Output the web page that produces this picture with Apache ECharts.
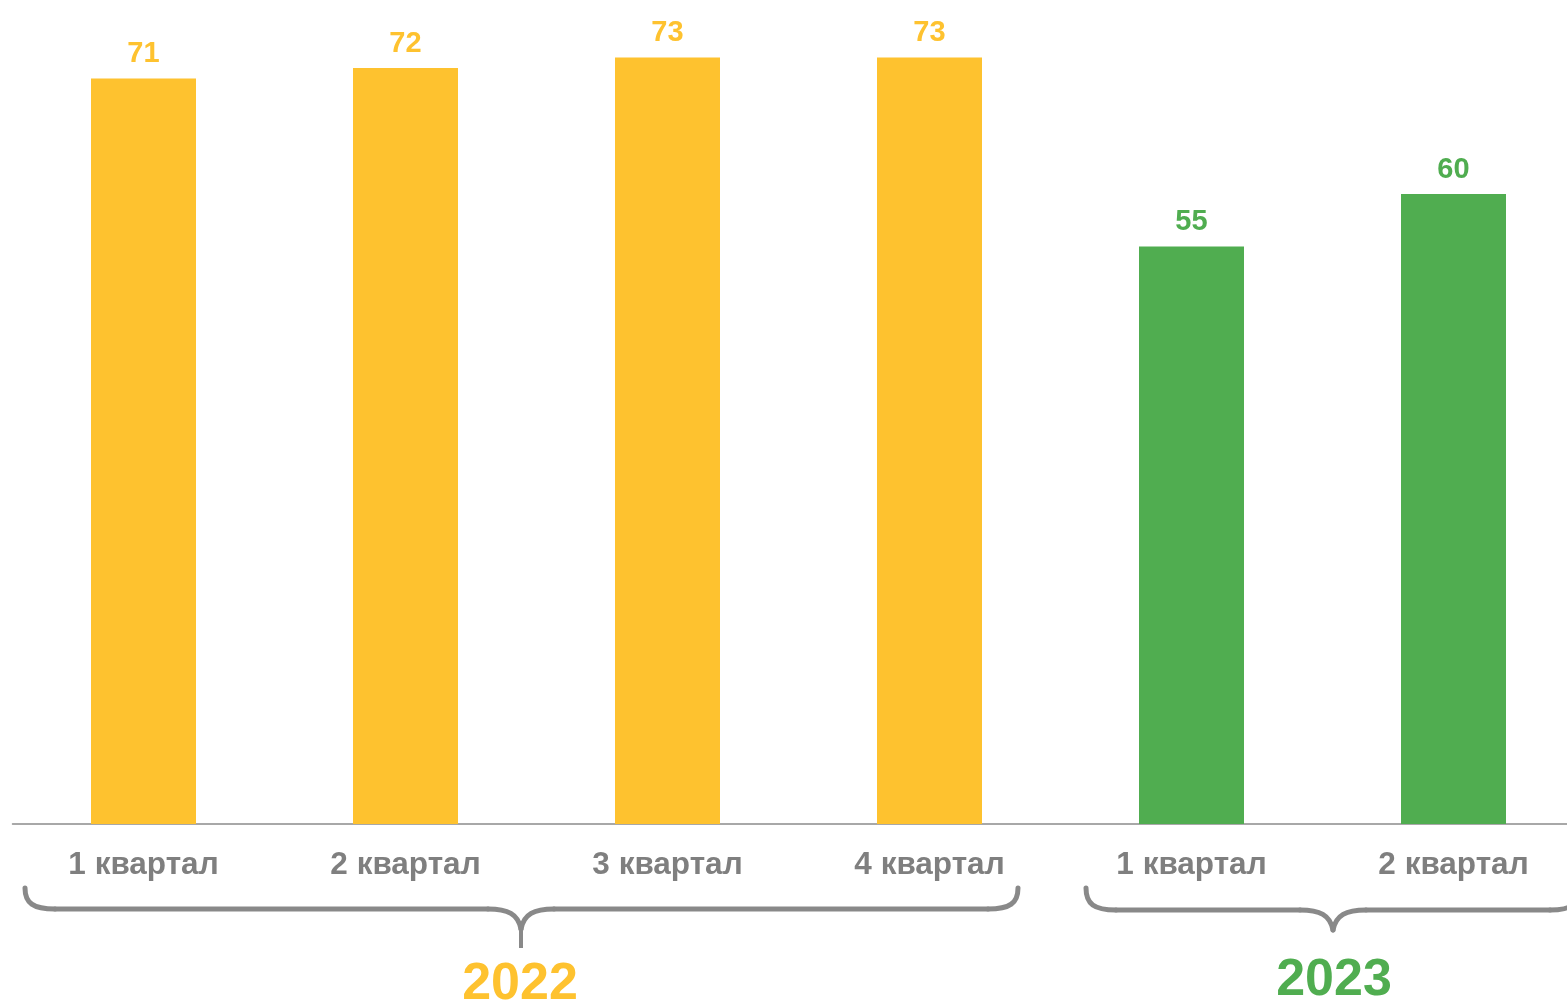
<!DOCTYPE html>
<html>
<head>
<meta charset="utf-8">
<script src="https://cdn.jsdelivr.net/npm/echarts@6/dist/echarts.min.js"></script>
<style>
html,body{margin:0;padding:0;background:#fff;overflow:hidden;width:1567px;height:1004px;}
#chart{width:1590px;height:1004px;}
</style>
</head>
<body>
<div id="chart"></div>
<script>
var categories = ['1 квартал', '2 квартал', '3 квартал', '4 квартал', '1 квартал', '2 квартал'];
var values = [71, 72, 73, 73, 55, 60];
var yearOfBar = ['2022', '2022', '2022', '2022', '2023', '2023'];
var yearLabels = ['2022', '2023'];

var yearColor = { '2022': '#FEC22F', '2023': '#50AD50' };
var FONT = '"Liberation Sans", Arial, sans-serif';

var chart = echarts.init(document.getElementById('chart'));

var seriesData = values.map(function (v, i) {
  var c = yearColor[yearOfBar[i]];
  return { value: v, itemStyle: { color: c }, label: { color: c } };
});

var braceStyle = { stroke: '#898989', lineWidth: 5, lineCap: 'round', fill: null };

// brace: left x, right x, top y of ends, y of horizontal, tip x, tip bottom y
function brace(xl, xr, yTop, yMid, xt, yTip) {
  var els = [];
  var r = 30;
  [[xl, 1], [xr, -1]].forEach(function (p) {
    var x0 = p[0], s = p[1];
    els.push({ type: 'bezierCurve', silent: true,
      shape: { x1: x0, y1: yTop, cpx1: x0, cpy1: yMid - 6, cpx2: x0 + s * 8, cpy2: yMid, x2: x0 + s * r, y2: yMid },
      style: braceStyle });
    els.push({ type: 'line', silent: true,
      shape: { x1: x0 + s * r, y1: yMid, x2: xt - s * 33, y2: yMid },
      style: braceStyle });
    els.push({ type: 'bezierCurve', silent: true,
      shape: { x1: xt - s * 33, y1: yMid, cpx1: xt - s * 13, cpy1: yMid, cpx2: xt - s * 3, cpy2: yMid + 5, x2: xt, y2: yMid + 20 },
      style: braceStyle });
  });
  els.push({ type: 'line', silent: true,
    shape: { x1: xt, y1: yMid + 20, x2: xt, y2: yTip },
    style: { stroke: '#898989', lineWidth: 4, lineCap: 'butt' } });
  return els;
}

var graphics = []
  .concat(brace(25, 1018, 888, 909, 521, 948))
  .concat(brace(1086, 1580, 888, 910, 1333, 931))
  .concat([
    { type: 'text', silent: true, x: 520, y: 985,
      style: { text: yearLabels[0], fill: yearColor['2022'], font: 'bold 52px ' + FONT, align: 'center', verticalAlign: 'middle' } },
    { type: 'text', silent: true, x: 1334, y: 981,
      style: { text: yearLabels[1], fill: yearColor['2023'], font: 'bold 52px ' + FONT, align: 'center', verticalAlign: 'middle' } }
  ]);

var option = {
  animation: false,
  backgroundColor: '#ffffff',
  grid: { left: 12.5, top: 5, width: 1572, height: 819, containLabel: false },
  xAxis: {
    type: 'category',
    data: categories,
    axisTick: { show: false },
    axisLine: { lineStyle: { color: '#8c8c8c', width: 1.5 } },
    axisLabel: { color: '#7f7f7f', fontSize: 31.5, fontWeight: 'bold', fontFamily: FONT, margin: 25, interval: 0 }
  },
  yAxis: {
    type: 'value', min: 0, max: 78,
    show: false,
    splitLine: { show: false }
  },
  series: [{
    type: 'bar',
    data: seriesData,
    barWidth: 105,
    label: { show: true, position: 'top', distance: 10, fontSize: 29, fontWeight: 'bold', fontFamily: FONT }
  }],
  graphic: graphics
};
chart.setOption(option);
</script>
</body>
</html>
